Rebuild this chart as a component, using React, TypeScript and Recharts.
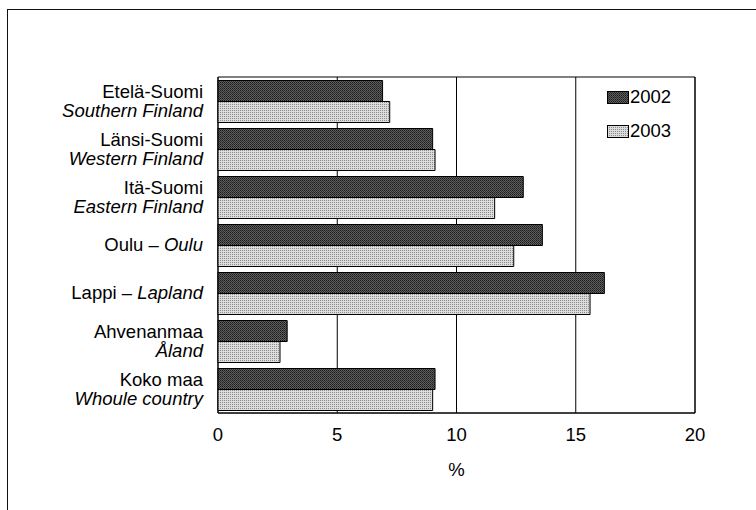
import React from 'react';
import {
  BarChart, Bar, XAxis, YAxis, CartesianGrid, ReferenceArea
} from 'recharts';

// --- data ---
const regionsFi = ['Etelä-Suomi', 'Länsi-Suomi', 'Itä-Suomi', 'Oulu', 'Lappi', 'Ahvenanmaa', 'Koko maa'];
const regionsEn = ['Southern Finland', 'Western Finland', 'Eastern Finland', 'Oulu', 'Lapland', 'Åland', 'Whoule country'];
// single-line labels use "Fi – En" on one row
const singleLine = [false, false, false, true, true, false, false];
const values2002 = [6.9, 9.0, 12.8, 13.6, 16.2, 2.9, 9.1];
const values2003 = [7.2, 9.1, 11.6, 12.4, 15.6, 2.6, 9.0];
const xTicks = [0, 5, 10, 15, 20];
const seriesKeys = ['2002', '2003'];

const data = regionsFi.map((name, i) => ({
  name,
  en: regionsEn[i],
  single: singleLine[i],
  y2002: values2002[i],
  y2003: values2003[i],
}));

const FONT = '"Liberation Sans", Arial, sans-serif';
const FS = 18.5;

// two-line (or single-line) category label, right aligned
const RegionTick = (props: any) => {
  const { x, y, payload } = props;
  const row = data.find(d => d.name === payload.value);
  if (!row) return null;
  if (row.single) {
    return (
      <text x={x} y={y} dy="0.35em" textAnchor="end" fontSize={FS} fontFamily={FONT} fill="#000">
        {row.name} – <tspan fontStyle="italic">{row.en}</tspan>
      </text>
    );
  }
  return (
    <g>
      <text x={x} y={y - 9.5} dy="0.35em" textAnchor="end" fontSize={FS} fontFamily={FONT} fill="#000">
        {row.name}
      </text>
      <text x={x} y={y + 9.5} dy="0.35em" textAnchor="end" fontSize={FS} fontFamily={FONT} fontStyle="italic" fill="#000">
        {row.en}
      </text>
    </g>
  );
};

const LegendBox = () => (
  <div style={{ position: 'absolute', left: 607, top: 86, fontFamily: FONT, fontSize: FS, color: '#000' }}>
    {seriesKeys.map((k, i) => (
      <div key={k} style={{ display: 'flex', alignItems: 'center', height: 22, marginBottom: i === 0 ? 12 : 0 }}>
        <svg width={22} height={13} style={{ marginRight: 1 }}>
          <rect x={0.5} y={0.5} width={21} height={12} fill={`url(#pat${k})`} stroke="#000" strokeWidth={1} />
        </svg>
        <span>{k}</span>
      </div>
    ))}
  </div>
);

export default function App() {
  return (
    <div style={{ position: 'absolute', left: 0, top: 0, width: 756, height: 510, background: '#fff', overflow: 'hidden' }}>
      <div style={{ position: 'absolute', left: 7, top: 9, width: 800, height: 600, borderLeft: '1px solid #111', borderTop: '1px solid #111' }} />
      <svg width={0} height={0} style={{ position: 'absolute' }}>
        <defs>
          <pattern id="pat2002" width={2} height={2} patternUnits="userSpaceOnUse">
            <rect width={2} height={2} fill="#5e5e5e" />
            <rect width={1} height={1} fill="#1a1a1a" />
            <rect x={1} y={1} width={1} height={1} fill="#303030" />
          </pattern>
          <pattern id="pat2003" width={2} height={2} patternUnits="userSpaceOnUse">
            <rect width={2} height={2} fill="#dcdcdc" />
            <rect width={1} height={1} fill="#8c8c8c" />
          </pattern>
        </defs>
      </svg>
      <div style={{ position: 'absolute', left: 0, top: 0 }}>
        <BarChart
          width={756}
          height={510}
          layout="vertical"
          data={data}
          margin={{ top: 77, right: 61, bottom: 34, left: 8 }}
          barCategoryGap={3.5}
          barGap={0}
        >
          <CartesianGrid horizontal={false} vertical={true} stroke="#000" strokeWidth={1} />
          <XAxis
            type="number"
            domain={[0, 20]}
            ticks={xTicks}
            tickLine={false}
            tickSize={0}
            tickMargin={15}
            axisLine={{ stroke: '#000' }}
            height={63}
            tick={{ fontSize: FS, fontFamily: FONT, fill: '#000' }}
            label={{ value: '%', position: 'insideBottom', offset: 0, fontSize: FS, fontFamily: FONT, fill: '#000' }}
          />
          <YAxis
            type="category"
            dataKey="name"
            width={210}
            tickLine={false}
            axisLine={false}
            tickSize={0}
            tickMargin={15}
            interval={0}
            tick={<RegionTick />}
          />
          <ReferenceArea x1={0} x2={20} fill="none" stroke="#000" strokeWidth={1} />
          <Bar dataKey="y2002" name="2002" fill="url(#pat2002)" stroke="#000" strokeWidth={1} isAnimationActive={false} />
          <Bar dataKey="y2003" name="2003" fill="url(#pat2003)" stroke="#000" strokeWidth={1} isAnimationActive={false} />
        </BarChart>
      </div>
      <LegendBox />
    </div>
  );
}
